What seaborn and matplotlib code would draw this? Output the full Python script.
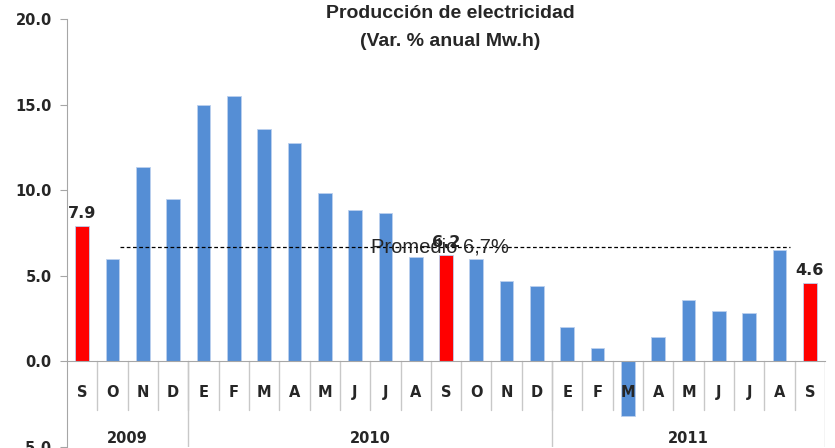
import numpy as np
import pandas as pd
import matplotlib
matplotlib.use("Agg")
import matplotlib.pyplot as plt
import seaborn as sns

# Datos: producción de electricidad, var. % anual
months = ["S", "O", "N", "D", "E", "F", "M", "A", "M", "J", "J", "A", "S",
          "O", "N", "D", "E", "F", "M", "A", "M", "J", "J", "A", "S"]
values = [7.9, 6.0, 11.35, 9.5, 14.95, 15.5, 13.6, 12.75, 9.85, 8.85, 8.65, 6.1, 6.2,
          6.0, 4.7, 4.4, 2.0, 0.8, -3.2, 1.4, 3.6, 2.95, 2.85, 6.5, 4.6]
years = ["2009", "2010", "2011"]
year_counts = [4, 12, 9]
promedio = 6.7
promedio_label = "Promedio 6,7%"
title_lines = ["Producción de electricidad", "(Var. % anual Mw.h)"]

df = pd.DataFrame({"pos": np.arange(len(values)), "mes": months, "valor": values})
highlight = [i for i, m in enumerate(months) if m == "S"]
colors = ["#FF0000" if i in highlight else "#558ED5" for i in df["pos"]]

sns.set_style("white")
plt.rcParams["font.family"] = ["DejaVu Sans"]

fig = plt.figure(figsize=(8.35, 4.48), dpi=100)
ax = fig.add_axes([67 / 835, 1 / 448, 758 / 835, 428 / 448])

sns.barplot(data=df, x="pos", y="valor", hue="pos", palette=colors, legend=False,
            width=0.45, saturation=1, ax=ax, zorder=2,
            edgecolor="#BCD0EE", linewidth=0.6)

ax.set_xlim(-0.5, len(values) - 0.5)
ax.set_ylim(-5, 20)
ax.set_yticks([-5, 0, 5, 10, 15, 20])
ax.set_yticklabels([f"{v:.1f}" for v in [-5, 0, 5, 10, 15, 20]],
                   fontsize=10.5, fontweight="bold")
ax.set_xticks([])
ax.set_xlabel("")
ax.set_ylabel("")

axis_col = "#A6A6A6"
sep_col = "#C8C8C8"
for s in ["top", "right"]:
    ax.spines[s].set_visible(False)
ax.spines["bottom"].set_position(("data", 0))
ax.spines["bottom"].set_color(axis_col)
ax.spines["left"].set_color(axis_col)
ax.tick_params(axis="y", left=True, length=5, color=axis_col, pad=6)

# separadores de meses y años
for i in range(len(values) - 1):
    ax.plot([i + 0.5, i + 0.5], [0, -2.85], color=sep_col, lw=1, zorder=1)
edge = -0.5
for c in year_counts:
    edge += c
    ax.plot([edge, edge], [0, -5], color=sep_col, lw=1, zorder=1)

# etiquetas de meses y años
for i, m in enumerate(months):
    ax.text(i, -1.8, m, ha="center", va="center", fontsize=10.5, fontweight="bold", zorder=5)
start = 0
for y, c in zip(years, year_counts):
    ax.text(start + (c - 1) / 2, -4.5, y, ha="center", va="center",
            fontsize=10.5, fontweight="bold")
    start += c

# línea de promedio
ax.hlines(promedio, 1.25, 23.35, colors="black", linestyles=(0, (3, 2)), lw=0.9, zorder=3)
ax.text(11.8, promedio, promedio_label, ha="center", va="center", fontsize=14.5,
        family="Liberation Sans", zorder=4)

# valores destacados
for i in highlight:
    ax.text(i, values[i] + 0.3, f"{values[i]:.1f}", ha="center", va="bottom",
            fontsize=11.5, fontweight="bold", zorder=4)

fig.text(450 / 835, 1 - 13 / 448, title_lines[0], ha="center", va="center",
         fontsize=14, fontweight="bold", family="Liberation Sans")
fig.text(450 / 835, 1 - 42 / 448, title_lines[1], ha="center", va="center",
         fontsize=14, fontweight="bold", family="Liberation Sans")

fig.savefig("out.png", dpi=100)
